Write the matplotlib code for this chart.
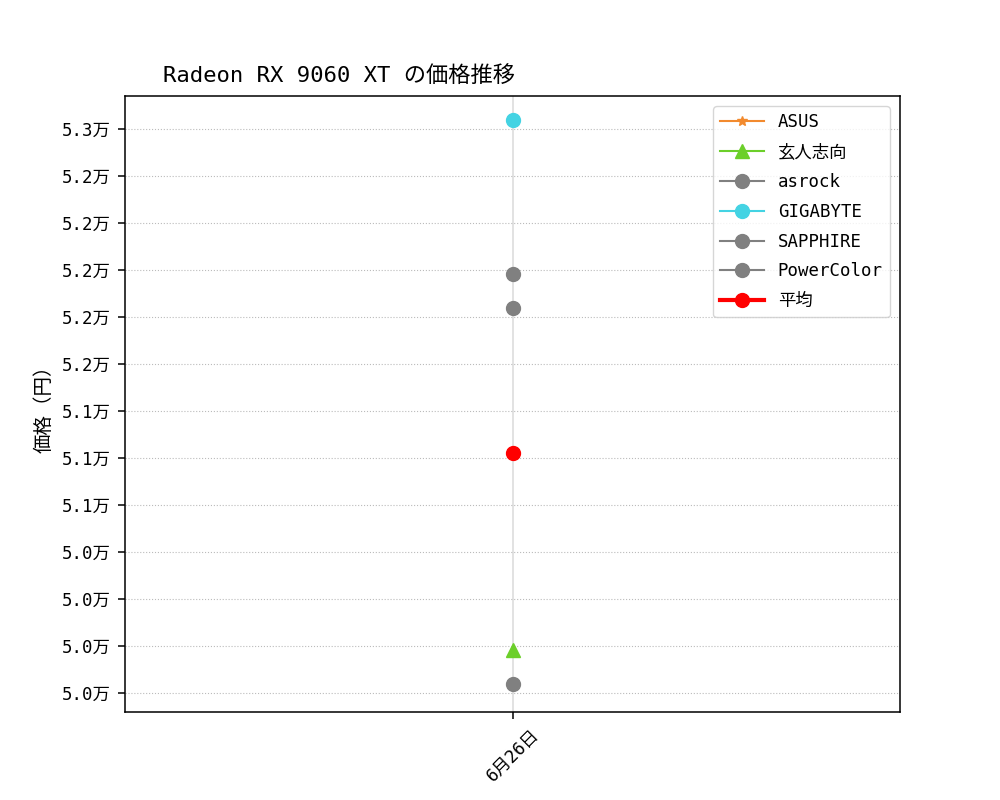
import matplotlib
matplotlib.use("Agg")
import matplotlib.pyplot as plt
from matplotlib import font_manager
from matplotlib.ticker import FixedLocator, FuncFormatter

names = {f.name for f in font_manager.fontManager.ttflist}
fams = [f for f in ["Noto Sans Mono CJK JP", "DejaVu Sans Mono", "Noto Sans CJK JP", "DejaVu Sans"] if f in names]
plt.rcParams['font.family'] = fams
plt.rcParams['font.size'] = 12.5
plt.rcParams['axes.linewidth'] = 1.1
plt.rcParams['xtick.major.width'] = 1.1
plt.rcParams['ytick.major.width'] = 1.1
plt.rcParams['xtick.major.size'] = 5
plt.rcParams['ytick.major.size'] = 5
plt.rcParams['xtick.major.pad'] = 5
plt.rcParams['ytick.major.pad'] = 5

dates = ["6月26日"]
brands = ["ASUS", "玄人志向", "asrock", "GIGABYTE", "SAPPHIRE", "PowerColor"]
prices = {
    "ASUS": [49800],
    "玄人志向": [49980],
    "asrock": [49800],
    "GIGABYTE": [52800],
    "SAPPHIRE": [51980],
    "PowerColor": [51800],
}
average = [51025]
colors = {
    "ASUS": "#F28A2E",
    "玄人志向": "#6CCF2A",
    "asrock": "#808080",
    "GIGABYTE": "#44D3E3",
    "SAPPHIRE": "#808080",
    "PowerColor": "#808080",
}
markers = {
    "ASUS": "*",
    "玄人志向": "^",
    "asrock": "o",
    "GIGABYTE": "o",
    "SAPPHIRE": "o",
    "PowerColor": "o",
}
msizes = {
    "ASUS": 7,
    "玄人志向": 10,
    "asrock": 10,
    "GIGABYTE": 10,
    "SAPPHIRE": 10,
    "PowerColor": 10,
}
yticks = [49750, 50000, 50250, 50500, 50750, 51000, 51250, 51500, 51750,
          52000, 52250, 52500, 52750]

fig, ax = plt.subplots(figsize=(10, 8), dpi=100)
x = list(range(len(dates)))
for b in brands:
    ax.plot(x, prices[b], marker=markers[b], color=colors[b], label=b,
            linewidth=1.5, markersize=msizes[b])
ax.plot(x, average, marker="o", color="red", label="平均", linewidth=3,
        markersize=10)

ax.set_xlim(-1, 1)
ax.set_ylim(49650, 52926)
ax.set_xticks(x)
ax.set_xticklabels(dates, rotation=45, ha="center")
ax.yaxis.set_major_locator(FixedLocator(yticks))
ax.yaxis.set_major_formatter(FuncFormatter(lambda v, p: f"{v/10000:.1f}万"))
ax.yaxis.grid(True, linestyle=":", color="#bbbbbb", linewidth=0.8)
ax.xaxis.grid(True, linestyle="-", color="#dddddd", linewidth=1.2)
ax.set_axisbelow(True)
ax.set_ylabel("価格（円）", fontsize=14, labelpad=6)
ax.set_title("Radeon RX 9060 XT の価格推移", loc="left", x=0.049, fontsize=16, pad=10)
ax.legend(loc="upper right", handlelength=2.5, labelspacing=0.68,
          borderaxespad=0.6)

fig.savefig("out.png", dpi=100)
